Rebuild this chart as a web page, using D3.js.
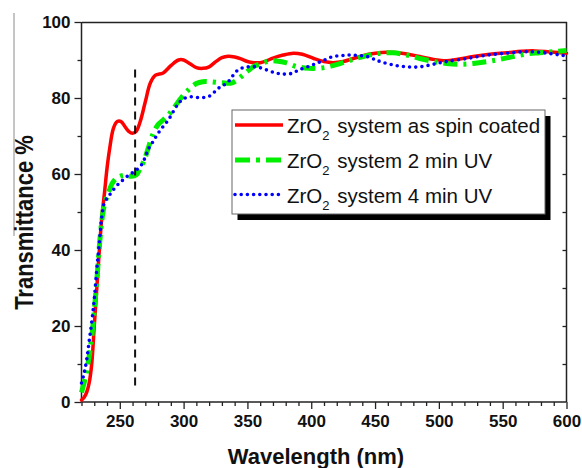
<!DOCTYPE html>
<html>
<head>
<meta charset="utf-8">
<script src="https://cdn.jsdelivr.net/npm/d3@7"></script>
<style>
  html, body { margin: 0; padding: 0; background: #fff; }
  svg { display: block; font-family: "Liberation Sans", Arial, sans-serif; }
</style>
</head>
<body>
<svg id="chart" width="582" height="468"></svg>
<script>
// ---- Data ----
const waveSpin = [220,222,224,226,228,230,232,234,236,238,240,242,245,248,251,254,257,260,263,266,270,274,278,284,290,296,300,305,310,315,320,325,330,335,340,345,350,355,360,365,370,378,386,393,402,410,417,425,433,445,455,465,475,485,495,506,515,527,540,553,565,575,585,595,600];
const transSpin = [0.5,1.2,2.5,5,10,20,30,40,49,55,61.5,66.5,72,73.8,73.8,72.5,71.2,70.7,71.3,73.8,79,84,86,86.6,88.5,90,90,89,88,87.8,88.2,89.5,90.6,91,90.8,90.3,89.6,89.3,89.3,89.8,90.5,91.3,91.8,91.5,90.4,89.6,89.3,89.6,90.4,91.5,92,92,91.6,90.9,90.2,89.8,90.2,90.9,91.5,91.9,92.3,92.4,92.2,91.9,91.8];

const waveUV2 = [220,222,224,226,228,230,232,234,236,238,241,244,247,251,255,259,263,266,269,272,276,280,284,288,293,298,304,310,315,320,330,338,345,350,355,360,367,374,380,388,395,403,410,417,423,433,443,454,464,475,485,496,506,517,527,538,548,558,569,579,590,600];
const transUV2 = [2.5,5,8,12,17,24,32,41,48,52,55,57.5,58.8,59.5,59.7,59.4,59.8,61.5,63.5,66.5,70.5,73,74.2,75.5,77.7,80,82.2,83.8,84.3,84.3,84,84,85.6,87,88.3,89,89.7,89.7,89.3,88.3,87.9,87.8,88,88.5,89.1,90.2,91.1,91.8,91.9,91.3,90.4,89.6,89.1,88.9,89.1,89.6,90.2,90.9,91.6,91.9,92.2,92.5];

const waveUV4 = [220,222,224,226,228,230,232,234,236,238,242,247,252,257,262,267,270,272,276,280,284,288,292,296,300,305,312,319,323,327,331,335,338,341,345,350,357,365,372,378,385,391,398,404,411,417,425,430,437,444,450,454,464,475,485,496,506,522,538,553,569,585,595,600];
const transUV4 = [5,7.5,11,16,21,27,35,42,49,52.5,54.5,56.7,58.3,59.7,60.8,62.4,64.5,66.3,68.5,70.7,72.5,74.2,76.5,78.6,79.8,80.3,80.1,80.3,81.2,82.5,83.3,84.3,85.6,86.9,87.8,88.2,88.2,87.4,86.6,86.3,86.5,87.5,88.3,89.1,90.1,90.9,91.2,91.3,91.2,90.9,90.1,89.6,88.7,88.2,88.2,88.9,89.6,90.4,91.3,91.8,92.2,91.8,91.3,91.1];

const seriesNames = ["system as spin coated", "system 2 min UV", "system 4 min UV"];
const xTickLabels = [250,300,350,400,450,500,550,600];
const yTickLabels = [0,20,40,60,80,100];
const markerWave = 262;          // vertical dashed marker
const markerRange = [4, 87.5];   // its extent in %

// ---- Layout ----
const svg = d3.select("#chart");
const L = 81.5, R = 566.5, T = 22, B = 402;
const x = d3.scaleLinear().domain([220, 600]).range([L, R]);
const y = d3.scaleLinear().domain([0, 100]).range([B, T]);
const axisColor = "#222";

// faint artifact line at far left
svg.append("line").attr("x1", 14).attr("x2", 14).attr("y1", 13).attr("y2", 236)
  .attr("stroke", "#8a8a8a").attr("stroke-width", 1);

// ---- Axes ----
const gxMinor = svg.append("g").attr("transform", `translate(0,${B})`)
  .call(d3.axisBottom(x).tickValues(d3.range(220, 601, 10).filter(v => v % 50 !== 0)).tickSize(4).tickFormat(""));
const gx = svg.append("g").attr("transform", `translate(0,${B})`)
  .call(d3.axisBottom(x).tickValues(xTickLabels).tickSize(7).tickPadding(6).tickFormat(d3.format("d")));
const gyMinor = svg.append("g").attr("transform", `translate(${L},0)`)
  .call(d3.axisLeft(y).tickValues(d3.range(10, 100, 20)).tickSize(4).tickFormat(""));
const gy = svg.append("g").attr("transform", `translate(${L},0)`)
  .call(d3.axisLeft(y).tickValues(yTickLabels).tickSize(7).tickPadding(4).tickFormat(d3.format("d")));
const gr = svg.append("g").attr("transform", `translate(${R},0)`)
  .call(d3.axisLeft(y).tickValues(d3.range(10, 100, 10)).tickSize(4).tickFormat(""));
const gt = svg.append("g").attr("transform", `translate(0,${T})`)
  .call(d3.axisTop(x).tickValues([]).tickSizeOuter(0));

[gxMinor, gx, gyMinor, gy, gr, gt].forEach(g => {
  g.selectAll(".domain").attr("stroke", axisColor).attr("stroke-width", 1.5);
  g.selectAll(".tick line").attr("stroke", axisColor).attr("stroke-width", 1.3);
});
[gxMinor, gyMinor, gr].forEach(g => g.select(".domain").remove());
gx.select(".domain").attr("d", `M${L},0H${R}`);
gy.select(".domain").attr("d", `M0,${T}V${B}`);
gr.append("path").attr("d", `M0,${T}V${B}`).attr("stroke", axisColor).attr("stroke-width", 1.5).attr("fill", "none");
[gx, gy].forEach(g => g.selectAll(".tick text")
  .attr("fill", "#111").style("font-size", "17px").style("font-weight", "bold")
  .style("font-family", "'Liberation Sans', Arial, sans-serif"));

// ---- Axis titles ----
svg.append("text").attr("x", (L + R) / 2 - 8).attr("y", 464).attr("text-anchor", "middle")
  .style("font-size", "22px").style("font-weight", "bold").attr("fill", "#111")
  .text("Wavelength (nm)");
svg.append("text").attr("transform", `translate(33,${222.5}) rotate(-90) scale(0.88,1)`).attr("text-anchor", "middle")
  .style("font-size", "25px").style("font-weight", "bold").attr("fill", "#111")
  .text("Transmittance %");

// ---- Curves ----
const line = d3.line().x(d => x(d[0])).y(d => y(d[1])).curve(d3.curveCatmullRom.alpha(0.5));
const styles = [
  { color: "#ff0000", width: 3.5, dash: null, cap: "round" },
  { color: "#00ee00", width: 5, dash: "14,6,3,6", cap: "butt" },
  { color: "#0000ff", width: 3.6, dash: "0,6.2", cap: "round" }
];
const sets = [
  d3.zip(waveSpin, transSpin),
  d3.zip(waveUV2, transUV2),
  d3.zip(waveUV4, transUV4)
];
sets.forEach((data, i) => {
  const s = styles[i];
  svg.append("path").datum(data).attr("d", line)
    .attr("fill", "none").attr("stroke", s.color).attr("stroke-width", s.width)
    .attr("stroke-linecap", s.cap).attr("stroke-linejoin", "round")
    .attr("stroke-dasharray", s.dash);
});

svg.append("line").attr("x1", x(markerWave)).attr("x2", x(markerWave))
  .attr("y1", y(markerRange[1])).attr("y2", y(markerRange[0]))
  .attr("stroke", "#111").attr("stroke-width", 2).attr("stroke-dasharray", "8,6");

// ---- Legend ----
const lg = { x: 232, y: 110, w: 313, h: 104 };
svg.append("rect").attr("x", lg.x + 5.5).attr("y", lg.y + 6).attr("width", lg.w).attr("height", lg.h)
  .attr("fill", "#000");
svg.append("rect").attr("x", lg.x).attr("y", lg.y).attr("width", lg.w).attr("height", lg.h)
  .attr("fill", "#fff").attr("stroke", "#666").attr("stroke-width", 1);
const rowY = [125, 160, 194.5];
seriesNames.forEach((name, i) => {
  const s = styles[i];
  svg.append("line").attr("x1", 235).attr("x2", 283).attr("y1", rowY[i]).attr("y2", rowY[i])
    .attr("stroke", s.color).attr("stroke-width", s.width)
    .attr("stroke-linecap", i === 2 ? "round" : "butt")
    .attr("stroke-dasharray", i === 1 ? "15,6,4,6" : (i === 2 ? "0,6.2" : null));
  const t = svg.append("text").attr("x", 287).attr("y", rowY[i] + 8)
    .style("font-size", "20.5px").attr("fill", "#111");
  t.append("tspan").text("ZrO");
  t.append("tspan").attr("dy", 7).style("font-size", "13px").text("2");
  t.append("tspan").attr("dy", -7).attr("dx", 2).text(" " + name);
});
</script>
</body>
</html>
